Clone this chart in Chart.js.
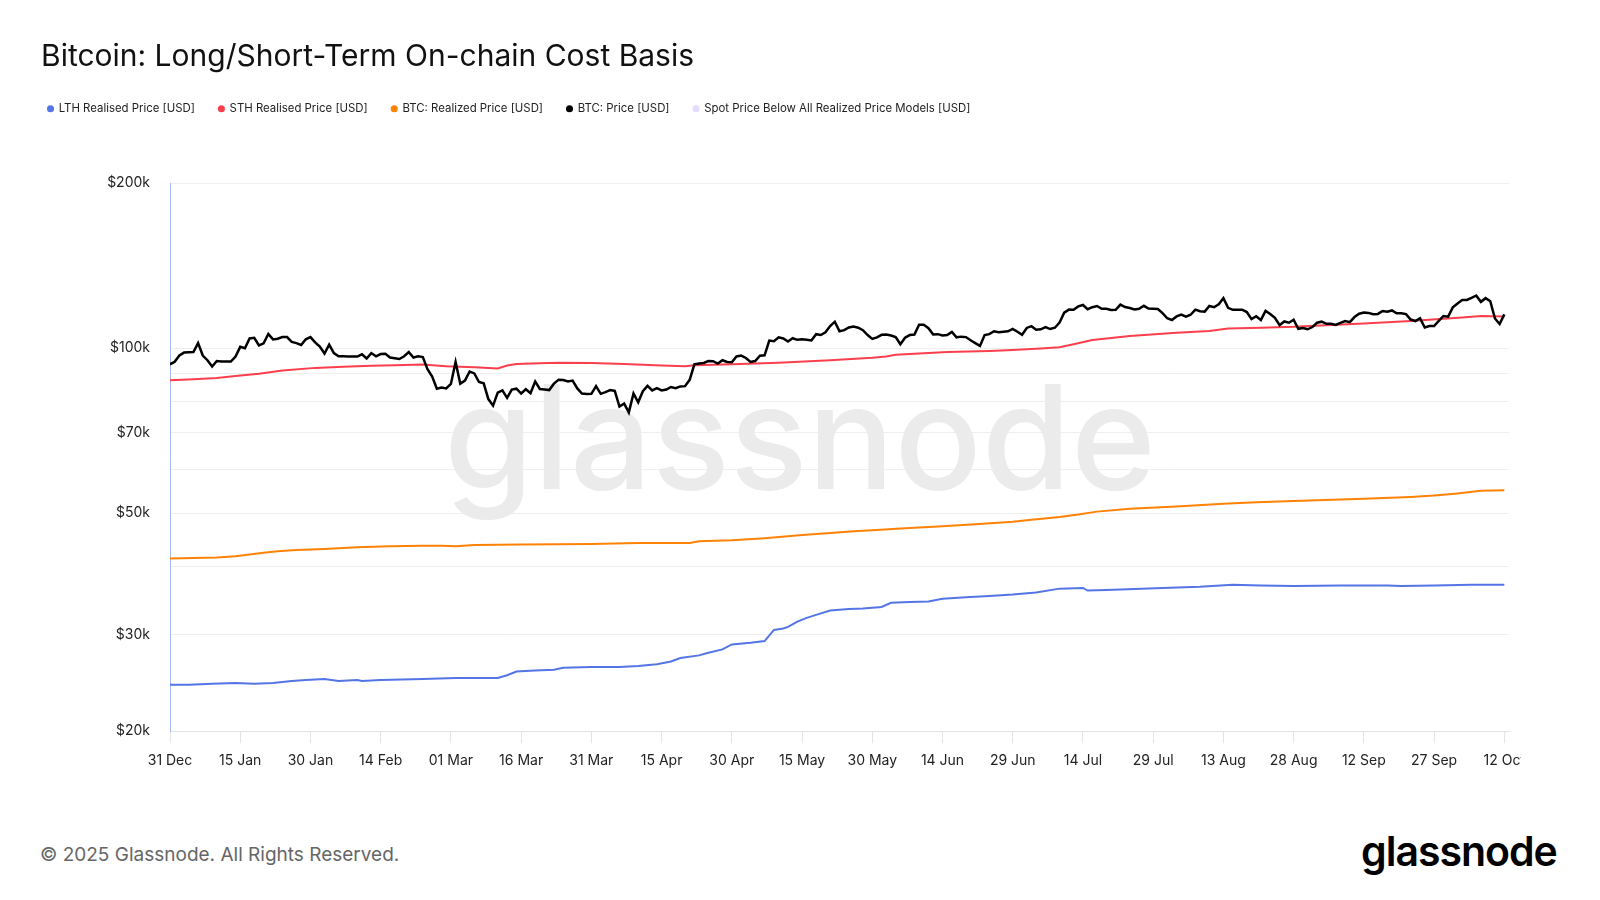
<!DOCTYPE html>
<html>
<head>
<meta charset="utf-8">
<title>Bitcoin: Long/Short-Term On-chain Cost Basis</title>
<script src="https://cdn.jsdelivr.net/npm/chart.js@4.4.1/dist/chart.umd.min.js"></script>
<style>
  html, body { margin: 0; padding: 0; background: #fff; }
  body { width: 1600px; height: 900px; position: relative; overflow: hidden; font-family: Inter, sans-serif; }
  #title { position: absolute; left: 41px; top: 40px; font-size: 30px; line-height: 30px; color: #111; white-space: nowrap; }
  #plot { position: absolute; left: 0; top: 0; width: 1521px; height: 800px; overflow: hidden; }
  #plot canvas { display: block; }
  #copy { position: absolute; left: 40px; top: 845px; font-size: 19px; line-height: 19px; color: #666; white-space: nowrap; }
  #logo { position: absolute; left: 1361px; top: 831px; font-size: 41px; line-height: 41px; font-weight: 600; letter-spacing: -1px; color: #000; }
</style>
</head>
<body>
<div id="plot"><canvas id="chart" width="1600" height="800"></canvas></div>
<div id="title">Bitcoin: Long/Short-Term On-chain Cost Basis</div>
<div id="copy">© 2025 Glassnode. All Rights Reserved.</div>
<div id="logo">glassnode</div>
<script>
// x axis: day 0 = 31 Dec 2024, one point per day up to 12 Oct 2025
const tickLabels = ['31 Dec', '15 Jan', '30 Jan', '14 Feb', '01 Mar', '16 Mar', '31 Mar', '15 Apr', '30 Apr', '15 May',
  '30 May', '14 Jun', '29 Jun', '14 Jul', '29 Jul', '13 Aug', '28 Aug', '12 Sep', '27 Sep', '12 Oct'];

// y axis ($k, log)
const yGridValues = [20, 30, 40, 50, 60, 70, 80, 90, 100, 200];
const yLabelValues = [20, 30, 50, 70, 100, 200];

// BTC: Price, daily, $k
const btcPrice = [
  93.4,
  // Jan
  94.4, 96.9, 98.1, 98.2, 98.3, 102.1, 96.9, 95.0, 92.5, 94.7, 94.5, 94.5, 94.5, 96.5, 100.5, 99.9,
  104.1, 104.4, 101.1, 102.0, 106.1, 103.7, 104.0, 104.7, 104.7, 102.6, 102.1, 101.3, 103.7, 104.7, 102.4,
  // Feb
  100.6, 97.7, 101.4, 97.9, 96.6, 96.6, 96.5, 96.5, 96.5, 97.4, 95.7, 97.9, 96.6, 97.5,
  97.6, 96.1, 95.8, 95.5, 96.6, 98.3, 96.1, 96.6, 96.3, 91.5, 88.7, 84.3, 84.7, 84.4,
  // Mar
  86.0, 94.3, 86.1, 87.2, 90.6, 89.9, 86.7, 86.2, 80.7, 78.5, 82.9, 83.7, 81.1, 84.0, 84.3, 82.6,
  84.1, 82.7, 86.9, 84.2, 84.0, 83.8, 86.1, 87.5, 87.4, 86.9, 87.2, 84.4, 82.6, 82.4, 82.5,
  // Apr
  85.2, 82.5, 83.1, 83.8, 83.5, 78.2, 79.2, 76.3, 82.6, 79.6, 83.4, 85.3, 83.7, 84.5, 83.7,
  84.0, 84.9, 84.5, 85.1, 85.2, 87.5, 93.4, 93.7, 93.9, 94.7, 94.6, 93.7, 95.0, 94.3, 94.2,
  // May
  96.5, 96.9, 95.9, 94.3, 94.7, 96.8, 97.0, 103.2, 102.9, 104.6, 104.1, 102.8, 104.2, 103.5, 103.7, 103.5,
  103.2, 106.0, 105.6, 106.8, 109.7, 111.7, 107.3, 107.8, 109.0, 109.4, 108.9, 107.8, 105.6, 103.9, 104.6,
  // Jun
  105.7, 105.8, 105.4, 104.7, 101.6, 104.4, 105.6, 105.8, 110.3, 110.3, 108.7, 105.9, 106.0, 105.4, 105.6,
  107.0, 104.6, 104.9, 104.7, 103.3, 102.1, 100.9, 105.6, 106.0, 107.3, 106.9, 107.1, 107.3, 108.4, 107.1,
  // Jul
  105.7, 108.8, 109.6, 108.0, 108.2, 109.2, 108.3, 108.9, 111.3, 116.0, 117.5, 117.4, 119.1, 119.8, 117.7, 118.7,
  119.3, 117.9, 117.9, 117.3, 117.4, 120.0, 118.8, 118.3, 117.6, 117.9, 119.4, 118.0, 117.9, 117.8, 115.8,
  // Aug
  113.3, 112.5, 114.2, 115.1, 114.1, 115.0, 117.5, 116.7, 116.5, 119.3, 118.7, 120.2, 123.3, 118.4, 117.4, 117.5,
  117.5, 116.3, 112.9, 114.3, 112.5, 116.9, 115.4, 113.5, 110.1, 111.8, 111.2, 112.6, 108.4, 108.8, 108.2,
  // Sep
  109.2, 111.2, 111.7, 110.7, 110.7, 110.2, 111.1, 112.0, 111.5, 113.9, 115.5, 116.1, 115.9, 115.3, 115.4,
  116.8, 116.5, 117.1, 115.7, 115.7, 115.3, 112.7, 112.0, 113.3, 109.0, 109.7, 109.7, 112.1, 114.4, 114.1,
  // Oct
  118.6, 120.6, 122.3, 122.4, 123.5, 124.7, 121.4, 123.3, 121.7, 113.2, 110.6, 115.2
];

// STH Realised Price ($k)
const sthDays = [0, 5, 10, 14, 19, 24, 31, 37, 43, 48, 54, 59, 65, 70, 72, 74, 79, 83, 90, 97,
  105, 110, 112, 120, 130, 141, 150, 153, 155, 166, 175, 180, 186, 190, 193, 197, 205, 215, 222, 226,
  233, 240, 248, 255, 265, 276, 280, 285];
const sthValues = [87.3, 87.7, 88.2, 88.9, 89.8, 91.0, 92.0, 92.4, 92.8, 93.0, 93.3, 92.6, 92.2, 91.8, 92.9, 93.5, 93.8, 94.0, 93.9, 93.5,
  92.9, 92.6, 93.0, 93.4, 94.0, 95.0, 96.0, 96.5, 97.2, 98.3, 98.8, 99.2, 99.8, 100.3, 101.6, 103.4, 105.2, 106.6, 107.4, 108.5,
  108.9, 109.3, 110.2, 110.9, 112.0, 113.7, 114.4, 114.2];

// BTC: Realized Price ($k)
const rpDays = [0, 5, 10, 14, 17, 20, 23, 27, 33, 40, 47, 54, 58, 61, 65, 75, 90, 100, 111, 113,
  120, 127, 135, 141, 146, 150, 157, 165, 172, 180, 184, 190, 194, 198, 205, 215, 225, 232, 240, 255,
  265, 270, 275, 280, 285];
const rpValues = [41.3, 41.4, 41.5, 41.7, 42.0, 42.3, 42.6, 42.8, 43.0, 43.3, 43.5, 43.6, 43.6, 43.5, 43.7, 43.8, 43.9, 44.1, 44.1, 44.4,
  44.6, 45.0, 45.6, 46.0, 46.3, 46.5, 46.9, 47.3, 47.7, 48.2, 48.6, 49.2, 49.7, 50.3, 50.9, 51.4, 52.0, 52.3, 52.6, 53.1,
  53.5, 53.8, 54.3, 54.9, 55.0];

// LTH Realised Price ($k)
const lthDays = [0, 4, 9, 14, 18, 22, 26, 29, 33, 36, 40, 41, 45, 54, 61, 66, 70, 72, 74, 78,
  82, 84, 90, 96, 100, 104, 107, 109, 113, 115, 118, 120, 124, 127, 129, 131, 132, 134, 136, 138,
  141, 145, 148, 152, 154, 158, 162, 165, 170, 175, 180, 185, 190, 195, 196, 200, 212, 220, 227, 233,
  240, 250, 260, 263, 270, 278, 285];
const lthValues = [24.3, 24.3, 24.4, 24.5, 24.4, 24.5, 24.7, 24.8, 24.9, 24.7, 24.8, 24.7, 24.8, 24.9, 25.0, 25.0, 25.0, 25.3, 25.7, 25.8,
  25.9, 26.1, 26.2, 26.2, 26.3, 26.5, 26.8, 27.2, 27.5, 27.8, 28.2, 28.8, 29.0, 29.2, 30.6, 30.8, 31.0, 31.7, 32.2, 32.6,
  33.2, 33.4, 33.5, 33.7, 34.3, 34.4, 34.5, 34.9, 35.1, 35.3, 35.5, 35.8, 36.4, 36.5, 36.1, 36.2, 36.5, 36.7, 37.0, 36.9,
  36.8, 36.9, 36.9, 36.8, 36.9, 37.0, 37.0];

const pairs = (days, values) => days.map((d, i) => ({ x: d, y: values[i] }));

Chart.defaults.font.family = 'Inter, sans-serif';
Chart.defaults.color = '#222';

// big grey brand mark behind the lines
const watermark = {
  id: 'watermark',
  beforeDatasetsDraw(chart) {
    const ctx = chart.ctx;
    ctx.save();
    ctx.font = '500 145px Inter';
    const size = 145 * 712 / ctx.measureText('glassnode').width;
    ctx.font = '500 ' + size + 'px Inter';
    ctx.fillStyle = '#ebebeb';
    ctx.textAlign = 'center';
    ctx.textBaseline = 'alphabetic';
    ctx.fillText('glassnode', 800, 489);
    ctx.restore();
  }
};

// push the plot area down below the legend row
const legendSpacer = {
  id: 'legendSpacer',
  beforeInit(chart) {
    const fit = chart.legend.fit;
    chart.legend.fit = function () {
      fit.call(this);
      this.height = 104;
    };
  }
};

const chart = new Chart(document.getElementById('chart'), {
  type: 'line',
  data: {
    datasets: [
      { label: 'LTH Realised Price [USD]', data: pairs(lthDays, lthValues), borderColor: '#5475e6', backgroundColor: '#5475e6', order: 3 },
      { label: 'STH Realised Price [USD]', data: pairs(sthDays, sthValues), borderColor: '#fb3f4c', backgroundColor: '#fb3f4c', order: 2 },
      { label: 'BTC: Realized Price [USD]', data: pairs(rpDays, rpValues), borderColor: '#ff8205', backgroundColor: '#ff8205', order: 4 },
      { label: 'BTC: Price [USD]', data: btcPrice.map((v, i) => ({ x: i, y: v })), borderColor: '#000', backgroundColor: '#000', borderWidth: 2.5, order: 1 },
      { label: 'Spot Price Below All Realized Price Models [USD]', data: [], borderColor: '#e6dcff', backgroundColor: '#e6dcff', order: 5 }
    ]
  },
  options: {
    responsive: false,
    animation: false,
    devicePixelRatio: 1,
    elements: {
      point: { radius: 0 },
      line: { borderWidth: 2, tension: 0 }
    },
    layout: { padding: { left: 24, right: 91, top: 79, bottom: 22 } },
    plugins: {
      tooltip: { enabled: false },
      legend: {
        position: 'top',
        align: 'start',
        labels: {
          usePointStyle: true,
          pointStyle: 'circle',
          boxWidth: 5,
          boxHeight: 5,
          padding: 24,
          color: '#222',
          font: { size: 11.4 },
          sort: (a, b) => a.datasetIndex - b.datasetIndex,
          generateLabels: (c) => Chart.defaults.plugins.legend.labels.generateLabels(c)
            .map(l => Object.assign(l, { lineWidth: 0 }))
        }
      }
    },
    scales: {
      x: {
        type: 'linear',
        min: 0,
        max: 286,
        afterBuildTicks: (axis) => {
          axis.ticks = tickLabels.map((_, i) => ({ value: i * 15 }));
        },
        ticks: {
          autoSkip: false,
          maxRotation: 0,
          padding: 9,
          color: '#222',
          font: { size: 14 },
          callback: (value, index) => tickLabels[index]
        },
        grid: { drawOnChartArea: false, drawTicks: true, tickLength: 12, color: '#e3e3e3' },
        border: { color: '#e3e3e3' }
      },
      y: {
        type: 'logarithmic',
        min: 20,
        max: 200,
        afterBuildTicks: (axis) => {
          axis.ticks = yGridValues.map(v => ({ value: v }));
        },
        afterFit: (axis) => { axis.width = 146; },
        ticks: {
          autoSkip: false,
          padding: 20,
          color: '#222',
          font: { size: 14 },
          callback: (value) => yLabelValues.includes(value) ? '$' + value + 'k' : ''
        },
        grid: { drawTicks: false, color: '#efefef' },
        border: { color: '#a7b8f0' }
      }
    }
  },
  plugins: [watermark, legendSpacer]
});
</script>
</body>
</html>
